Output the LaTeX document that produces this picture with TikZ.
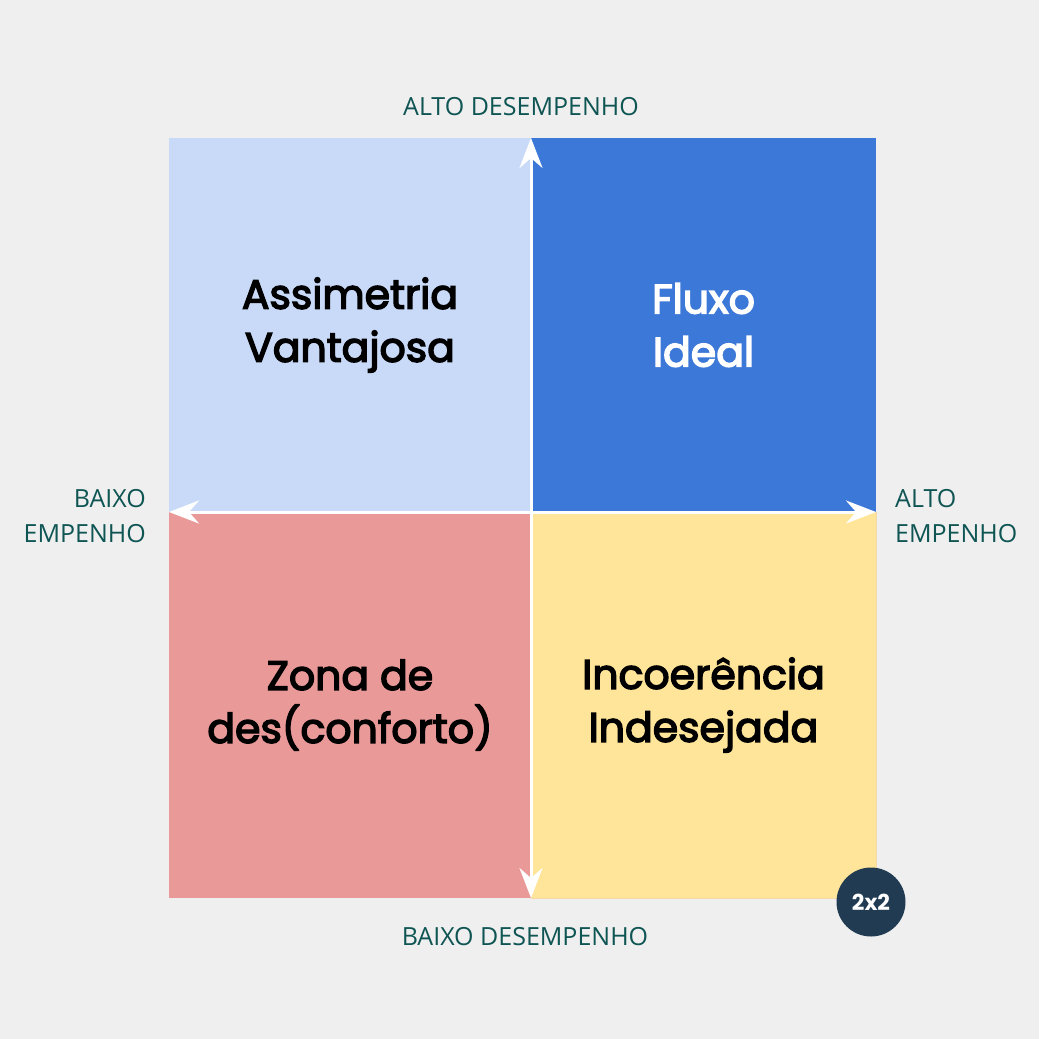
\documentclass[tikz,border=0pt]{standalone}
\usepackage{fontspec}
\setmainfont{Open Sans}
\newfontfamily\quadfont[FakeBold=3.5]{Poppins}
\newfontfamily\badgefont{Poppins}
\usetikzlibrary{arrows.meta,positioning}
\definecolor{paper}{HTML}{EFEFEF}
\definecolor{lightblue}{HTML}{C9DAF8}
\definecolor{darkblue}{HTML}{3C78D8}
\definecolor{salmon}{HTML}{EA9999}
\definecolor{butter}{HTML}{FFE599}
\definecolor{butteredge}{HTML}{F5D9A8}
\definecolor{axisteal}{HTML}{0E5553}
\definecolor{badge}{HTML}{203B52}

\begin{document}
\begin{tikzpicture}[x=1pt,y=-1pt,
    quad/.style={minimum width=362pt,minimum height=374pt,inner sep=0pt,outer sep=0pt,
        align=center,font=\quadfont\fontsize{41}{53}\selectfont},
    axis/.style={white,line width=3pt,
        {Stealth[width=23pt,length=30pt,inset=10pt]}-{Stealth[width=23pt,length=30pt,inset=10pt]}},
    axislabel/.style={text=axisteal,inner sep=0pt,font=\fontsize{25}{35}\selectfont}]
    \useasboundingbox[fill=paper] (0,0) rectangle (1039,1039);
    % quadrants
    \node[quad,fill=lightblue,anchor=south east] (advantage) at (531,512)
        {Assimetria\\Vantajosa};
    \node[quad,fill=darkblue,text=white,minimum width=345pt,anchor=south west] (flow) at (531,512)
        {Fluxo\\Ideal};
    \node[quad,fill=salmon,minimum height=386pt,anchor=north east] (comfort) at (531,512)
        {Zona de\\des(conforto)};
    \node[quad,fill=butter,draw=butteredge,line width=1pt,minimum width=345pt,minimum height=386pt,
          anchor=north west] (mismatch) at (531,512)
        {Incoerência\\Indesejada};
    % axes
    \draw[axis] (comfort.south east)--(advantage.north east);
    \draw[axis] (advantage.south west)--(flow.south east);
    \node[axislabel,anchor=base] (perfhigh) at ([shift={(-10,-23)}]advantage.north east) {ALTO DESEMPENHO};
    \node[axislabel,anchor=base] (perflow) at ([shift={(-6,47)}]comfort.south east) {BAIXO DESEMPENHO};
    \node[axislabel,align=right,anchor=base east] (effortlow) at ([shift={(-23,30)}]advantage.south west) {BAIXO\\EMPENHO};
    \node[axislabel,align=left,anchor=base west] (efforthigh) at ([shift={(19,30)}]flow.south east) {ALTO\\EMPENHO};
    \node[circle,fill=badge,minimum size=69pt,text=white,
          font=\badgefont\bfseries\fontsize{22}{22}\selectfont] (badge) at (871,902) {2x2};
\end{tikzpicture}
\end{document}
